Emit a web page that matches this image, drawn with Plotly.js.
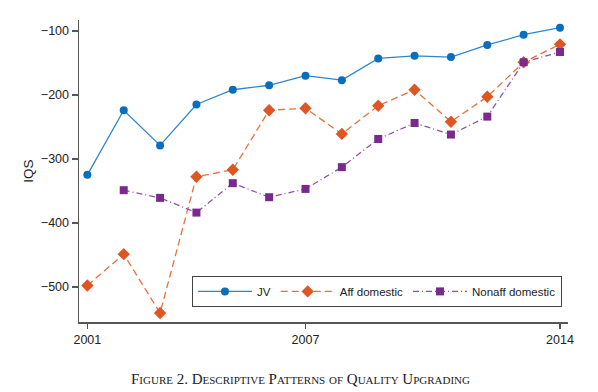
<!DOCTYPE html>
<html>
<head>
<meta charset="utf-8">
<script src="https://cdn.plot.ly/plotly-3.0.1.min.js"></script>
<style>html,body{margin:0;padding:0;background:#fff;}#chart{width:598px;height:392px;}</style>
</head>
<body>
<div id="chart"></div>
<script>
const years = [2001,2002,2003,2004,2005,2006,2007,2008,2009,2010,2011,2012,2013,2014];
const jv = [-325,-224,-279,-215,-192,-185,-170,-177,-143,-139,-141,-122,-106,-95];
const affDomestic = [-498,-449,-541,-328,-317,-224,-221,-261,-217,-192,-242,-203,-149,-121];
const nonaffYears = [2002,2003,2004,2005,2006,2007,2008,2009,2010,2011,2012,2013,2014];
const nonaffDomestic = [-349,-361,-384,-338,-360,-347,-313,-269,-244,-262,-234,-149,-133];
const seriesNames = ["JV","Aff domestic","Nonaff domestic"];
const xTicks = [2001,2007,2014];
const yTicks = [-100,-200,-300,-400,-500];
const caption = "Figure 2. Descriptive Patterns of Quality Upgrading";

const traces = [
  {x: years, y: jv, name: seriesNames[0], type: "scatter", mode: "lines+markers",
   line: {color: "#2f86cc", width: 1.3},
   marker: {color: "#0a6dbd", symbol: "circle", size: 8}},
  {x: years, y: affDomestic, name: seriesNames[1], type: "scatter", mode: "lines+markers",
   line: {color: "#e8703e", width: 1.3, dash: "7px,4px"},
   marker: {color: "#df5622", symbol: "diamond", size: 9.5}},
  {x: nonaffYears, y: nonaffDomestic, name: seriesNames[2], type: "scatter", mode: "lines+markers",
   line: {color: "#9450a8", width: 1.3, dash: "6px,3px,1px,3px"},
   marker: {color: "#7a2a8c", symbol: "square", size: 8}}
];

const layout = {
  width: 598, height: 392,
  margin: {l: 79, r: 30, t: 20, b: 70},
  paper_bgcolor: "#fff", plot_bgcolor: "#fff",
  font: {family: "Liberation Sans, Arial, sans-serif", color: "#222", size: 12},
  showlegend: true,
  legend: {orientation: "h", x: 0.231, y: 0.05, xanchor: "left", yanchor: "bottom",
    bordercolor: "#444", borderwidth: 1, bgcolor: "#fff",
    font: {size: 11.5, color: "#222"}, itemwidth: 54, traceorder: "normal"},
  xaxis: {range: [2000.77, 2014.22], tickvals: xTicks, ticktext: xTicks.map(String),
    showgrid: false, zeroline: false, showline: true, linecolor: "#555", linewidth: 1.5,
    ticks: "outside", ticklen: 5, tickcolor: "#555", tickwidth: 1.5,
    tickfont: {size: 12.5, color: "#222"}},
  yaxis: {range: [-555, -83], tickvals: yTicks, showgrid: false, zeroline: false,
    showline: true, linecolor: "#555", linewidth: 1.5,
    ticks: "outside", ticklen: 6, tickcolor: "#555", tickwidth: 1.5,
    tickfont: {size: 12.5, color: "#222"},
    title: {text: "IQS", font: {size: 13.5, color: "#222"}, standoff: 4}},
  annotations: [{text: caption, xref: "paper", yref: "paper", x: 0.452, y: -0.19,
    xanchor: "center", yanchor: "middle", showarrow: false,
    font: {family: "Liberation Serif, Times New Roman, serif", size: 15, color: "#222", variant: "small-caps"}}]
};

Plotly.newPlot("chart", traces, layout, {displayModeBar: false, staticPlot: true});
</script>
</body>
</html>
